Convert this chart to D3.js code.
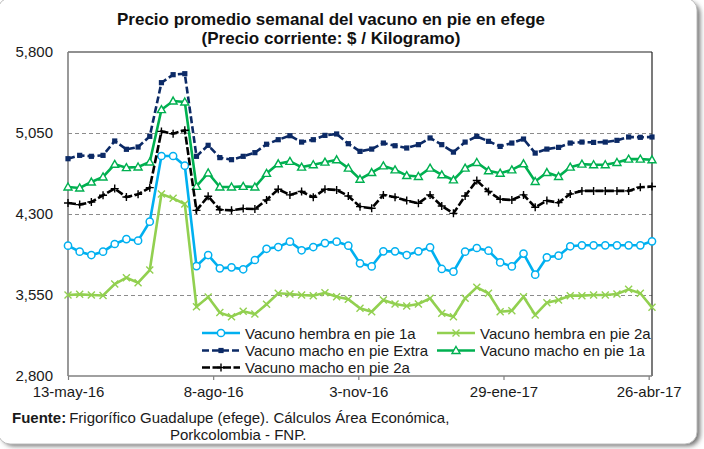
<!DOCTYPE html>
<html>
<head>
<meta charset="utf-8">
<script src="https://cdn.jsdelivr.net/npm/d3@7"></script>
<style>
  html, body { margin: 0; padding: 0; background: #fff; }
  svg { display: block; font-family: 'Liberation Sans', Arial, sans-serif; }
  .grid line { stroke: #8c8c8c; stroke-dasharray: 4,3; }
  .grid path { display: none; }
  .y-axis path, .y-axis line { display: none; }
  .y-axis text, .x-axis text { font-size: 15px; fill: #1a1a1a; }
  .x-axis path { display: none; }
  .x-axis line { stroke: #808080; stroke-width: 1.2; }
  .legend text { font-size: 15px; fill: #1a1a1a; }
</style>
</head>
<body>
<svg id="chart" width="704" height="449"></svg>
<script>
// weekly dates (Friday)
const dates = [
  '2016-05-13', '2016-05-20', '2016-05-27', '2016-06-03', '2016-06-10', '2016-06-17',
  '2016-06-24', '2016-07-01', '2016-07-08', '2016-07-15', '2016-07-22', '2016-07-29',
  '2016-08-05', '2016-08-12', '2016-08-19', '2016-08-26', '2016-09-02', '2016-09-09',
  '2016-09-16', '2016-09-23', '2016-09-30', '2016-10-07', '2016-10-14', '2016-10-21',
  '2016-10-28', '2016-11-04', '2016-11-11', '2016-11-18', '2016-11-25', '2016-12-02',
  '2016-12-09', '2016-12-16', '2016-12-23', '2016-12-30', '2017-01-06', '2017-01-13',
  '2017-01-20', '2017-01-27', '2017-02-03', '2017-02-10', '2017-02-17', '2017-02-24',
  '2017-03-03', '2017-03-10', '2017-03-17', '2017-03-24', '2017-03-31', '2017-04-07',
  '2017-04-14', '2017-04-21', '2017-04-28',
];

const hembra1a = [
  4007, 3951, 3920, 3951, 4022, 4068, 4053, 4229, 4837, 4837, 4747, 3818,
  3920, 3797, 3806, 3788, 3874, 3978, 3994, 4044, 3964, 3994, 4031, 4044,
  4007, 3843, 3815, 3954, 3954, 3920, 3954, 3991, 3791, 3766, 3951, 3985,
  3960, 3852, 3815, 3933, 3738, 3899, 3914, 4001, 4010, 4010, 4010, 4010,
  4010, 4010, 4047,
];

const hembra2a = [
  3550, 3556, 3550, 3545, 3652, 3710, 3664, 3781, 4485, 4445, 4393, 3442,
  3531, 3387, 3349, 3399, 3373, 3465, 3566, 3559, 3550, 3544, 3571, 3534,
  3510, 3427, 3395, 3504, 3467, 3448, 3467, 3519, 3380, 3349, 3519, 3621,
  3566, 3395, 3405, 3534, 3365, 3479, 3504, 3544, 3544, 3550, 3550, 3559,
  3603, 3566, 3436,
];

const machoExtra = [
  4812, 4843, 4834, 4843, 4976, 4899, 4920, 5019, 5516, 5590, 5599, 4834,
  4936, 4822, 4803, 4834, 4868, 4946, 4988, 5025, 4966, 4988, 5028, 5041,
  4951, 4880, 4901, 4957, 4932, 4911, 4942, 5004, 4942, 4873, 4966, 5019,
  4973, 4926, 4957, 4994, 4864, 4901, 4917, 4957, 4966, 4963, 4966, 4982,
  5013, 5010, 5013,
];

const macho1a = [
  4550, 4541, 4596, 4643, 4760, 4729, 4735, 4781, 5266, 5346, 5337, 4556,
  4680, 4550, 4550, 4556, 4550, 4676, 4765, 4787, 4734, 4756, 4780, 4802,
  4725, 4622, 4684, 4746, 4709, 4656, 4647, 4725, 4663, 4616, 4725, 4777,
  4700, 4678, 4709, 4765, 4601, 4684, 4647, 4734, 4762, 4756, 4756, 4777,
  4808, 4808, 4802,
];

const macho2a = [
  4402, 4387, 4411, 4473, 4535, 4457, 4482, 4544, 5065, 5044, 5075, 4334,
  4464, 4340, 4334, 4350, 4346, 4430, 4529, 4477, 4508, 4455, 4529, 4523,
  4467, 4368, 4353, 4477, 4455, 4424, 4399, 4477, 4374, 4306, 4467, 4610,
  4508, 4436, 4430, 4477, 4362, 4424, 4405, 4486, 4514, 4514, 4514, 4514,
  4514, 4548, 4554,
];

const seriesNames = [
  'Vacuno hembra en pie 1a',
  'Vacuno hembra en pie 2a',
  'Vacuno macho en pie Extra',
  'Vacuno macho en pie 1a',
  'Vacuno macho en pie 2a',
];

const xTickDates = ['2016-05-13', '2016-08-08', '2016-11-03', '2017-01-29', '2017-04-26'];
const xTickLabels = ['13-may-16', '8-ago-16', '3-nov-16', '29-ene-17', '26-abr-17'];
const yTicks = [2800, 3550, 4300, 5050, 5800];

const parse = d3.timeParse('%Y-%m-%d');

const svg = d3.select('#chart');

//
// Frame with shadow
//

const defs = svg.append('defs');
const blur = defs.append('filter').attr('id', 'shadow')
  .attr('x', '-5%').attr('y', '-5%').attr('width', '110%').attr('height', '110%');
blur.append('feGaussianBlur').attr('stdDeviation', 2.5);

svg.append('rect')
  .attr('x', 2).attr('y', 2)
  .attr('width', 698).attr('height', 444)
  .attr('rx', 12)
  .attr('fill', '#6e6e6e')
  .attr('filter', 'url(#shadow)');

svg.append('rect')
  .attr('x', -2).attr('y', -2)
  .attr('width', 699).attr('height', 446)
  .attr('rx', 12)
  .attr('fill', '#fff')
  .attr('stroke', '#bdbdbd')
  .attr('stroke-width', 1);

//
// Scales
//

const plot = { left: 68, right: 652, top: 52, bottom: 376 };

const x = d3.scaleTime()
  .domain([parse(dates[0]), parse(dates[dates.length - 1])])
  .range([plot.left, plot.right]);

const y = d3.scaleLinear()
  .domain([2800, 5800])
  .range([plot.bottom, plot.top]);

//
// Title
//

const title = svg.append('text')
  .attr('text-anchor', 'middle')
  .attr('font-weight', 'bold')
  .attr('font-size', 17)
  .attr('fill', '#111');
title.append('tspan').attr('x', 331).attr('y', 25)
  .text('Precio promedio semanal del vacuno en pie en efege');
title.append('tspan').attr('x', 331).attr('y', 44)
  .text('(Precio corriente: $ / Kilogramo)');

//
// Grid
//

svg.append('g')
  .attr('class', 'grid')
  .attr('transform', `translate(${plot.left},0)`)
  .call(
    d3.axisLeft(y)
      .tickValues(yTicks.slice(1, -1))
      .tickSize(-(plot.right - plot.left))
      .tickFormat(() => ''),
  );

//
// Y axis
//

svg.append('g')
  .attr('class', 'y-axis')
  .attr('transform', `translate(${plot.left - 6},0)`)
  .call(d3.axisLeft(y).tickValues(yTicks).tickSize(0).tickPadding(9).tickFormat(d3.format(',')));

//
// X axis
//

svg.append('g')
  .attr('class', 'x-axis')
  .attr('transform', `translate(0,${plot.bottom})`)
  .call(
    d3.axisBottom(x)
      .tickValues(xTickDates.map(parse))
      .tickSize(4)
      .tickPadding(6)
      .tickFormat((d, i) => xTickLabels[i]),
  );

//
// Plot border
//

svg.append('line')
  .attr('x1', plot.left).attr('x2', plot.right)
  .attr('y1', plot.top).attr('y2', plot.top)
  .attr('stroke', '#222').attr('stroke-width', 1.2);
svg.append('line')
  .attr('x1', plot.right).attr('x2', plot.right)
  .attr('y1', plot.top).attr('y2', plot.bottom)
  .attr('stroke', '#222').attr('stroke-width', 1.2);
svg.append('line')
  .attr('x1', plot.left).attr('x2', plot.left)
  .attr('y1', plot.top).attr('y2', plot.bottom)
  .attr('stroke', '#808080').attr('stroke-width', 1.6);
svg.append('line')
  .attr('x1', plot.left).attr('x2', plot.right)
  .attr('y1', plot.bottom).attr('y2', plot.bottom)
  .attr('stroke', '#808080').attr('stroke-width', 1.6);

//
// Series
//

const styles = [
  { values: hembra1a, color: '#00b0f0', marker: 'circle', dash: null },
  { values: hembra2a, color: '#92d050', marker: 'x', dash: null },
  { values: machoExtra, color: '#0c2a66', marker: 'square', dash: '7,3' },
  { values: macho1a, color: '#00b050', marker: 'triangle', dash: null },
  { values: macho2a, color: '#000000', marker: 'plus', dash: '8,2.5' },
];

function drawMarker(g, type, color, cx, cy) {
  if (type === 'circle') {
    g.append('circle').attr('cx', cx).attr('cy', cy).attr('r', 3.6)
      .attr('fill', '#fff').attr('stroke', color).attr('stroke-width', 1.5);
  } else if (type === 'square') {
    g.append('rect').attr('x', cx - 2.6).attr('y', cy - 2.6)
      .attr('width', 5.2).attr('height', 5.2).attr('fill', color);
  } else if (type === 'triangle') {
    g.append('path')
      .attr('d', `M${cx},${cy - 4}L${cx + 4},${cy + 3}L${cx - 4},${cy + 3}Z`)
      .attr('fill', '#fff').attr('stroke', color).attr('stroke-width', 1.4);
  } else if (type === 'plus') {
    g.append('path')
      .attr('d', `M${cx - 4},${cy}H${cx + 4}M${cx},${cy - 4}V${cy + 4}`)
      .attr('stroke', color).attr('stroke-width', 1.4);
  } else if (type === 'x') {
    g.append('path')
      .attr('d', `M${cx - 3.5},${cy - 3.5}L${cx + 3.5},${cy + 3.5}M${cx - 3.5},${cy + 3.5}L${cx + 3.5},${cy - 3.5}`)
      .attr('stroke', color).attr('stroke-width', 1.4);
  }
}

const line = d3.line()
  .x((d) => x(parse(d[0])))
  .y((d) => y(d[1]));

styles.forEach((s) => {
  const pts = dates.map((d, i) => [d, s.values[i]]);
  const g = svg.append('g');
  g.append('path')
    .datum(pts)
    .attr('fill', 'none')
    .attr('stroke', s.color)
    .attr('stroke-width', 2.6)
    .attr('stroke-dasharray', s.dash)
    .attr('d', line);
  pts.forEach((p) => drawMarker(g, s.marker, s.color, x(parse(p[0])), y(p[1])));
});

//
// Legend
//

const legend = svg.append('g').attr('class', 'legend');
const legendPos = [
  [202, 333], [437, 333], [202, 350.5], [437, 350.5], [202, 367.5],
];

styles.forEach((s, i) => {
  const [lx, ly] = legendPos[i];
  legend.append('line')
    .attr('x1', lx).attr('x2', lx + 38)
    .attr('y1', ly).attr('y2', ly)
    .attr('stroke', s.color).attr('stroke-width', 2.6)
    .attr('stroke-dasharray', s.dash);
  drawMarker(legend, s.marker, s.color, lx + 19, ly);
  legend.append('text')
    .attr('x', lx + 43).attr('y', ly + 5.5)
    .text(seriesNames[i]);
});

//
// Source note
//

const note = svg.append('text').attr('font-size', 15).attr('fill', '#1a1a1a');
note.append('tspan').attr('x', 12).attr('y', 423).attr('font-weight', 'bold').text('Fuente:');
note.append('tspan').attr('dx', 3).text('Frigorífico Guadalupe (efege). Cálculos Área Económica,');
svg.append('text').attr('font-size', 15).attr('fill', '#1a1a1a')
  .attr('x', 170).attr('y', 440)
  .text('Porkcolombia  - FNP.');
</script>
</body>
</html>
